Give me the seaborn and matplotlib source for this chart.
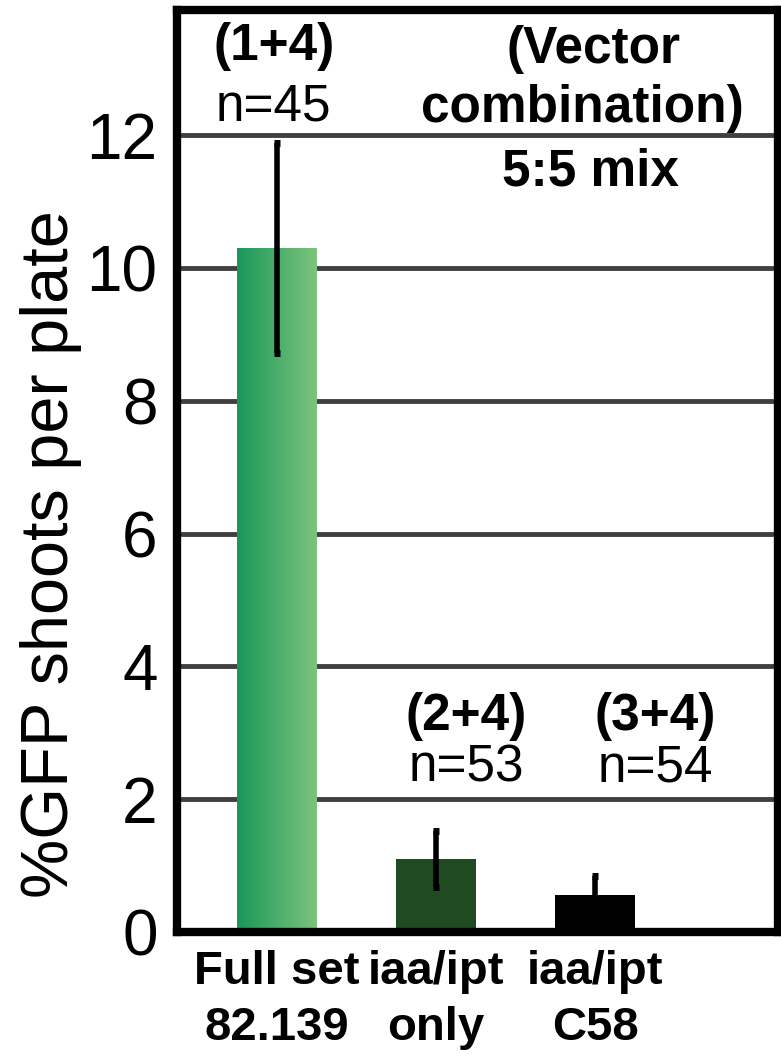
import numpy as np
import pandas as pd
import matplotlib
matplotlib.use("Agg")
import matplotlib.pyplot as plt
import seaborn as sns
from matplotlib.colors import LinearSegmentedColormap

# ---- data ----
categories = ["Full set\n82.139", "iaa/ipt\nonly", "iaa/ipt\nC58"]
means = [10.3, 1.1, 0.55]
errors = [1.58, 0.42, 0.29]
bar_colors = ["#1a965a", "#1f4a22", "#000000"]
gradient_colors = ["#1a965a", "#7cc47c"]
group_labels = ["(1+4)", "(2+4)", "(3+4)"]
n_labels = ["n=45", "n=53", "n=54"]
yticks = [0, 2, 4, 6, 8, 10, 12]
ylabel = "%GFP shoots per plate"
side_note = ["(Vector", "combination)", "5:5 mix"]

sns.set_style("white")
plt.rcParams["font.family"] = ["Liberation Sans", "DejaVu Sans"]
plt.rcParams["text.color"] = "black"
plt.rcParams["axes.labelcolor"] = "black"
plt.rcParams["xtick.color"] = "black"
plt.rcParams["ytick.color"] = "black"

W, H = 781, 1058
fig = plt.figure(figsize=(W / 100, H / 100), dpi=100)
ax = fig.add_axes([177 / W, (H - 932) / H, (778 - 177) / W, (932 - 10) / H])

df = pd.DataFrame({"category": categories, "value": means})
sns.barplot(data=df, x="category", y="value", hue="category",
            palette=bar_colors, width=0.5, legend=False, ax=ax,
            saturation=1, zorder=2, linewidth=0)

ax.errorbar(x=np.arange(len(means)), y=means, yerr=errors, fmt="none",
            ecolor="black", elinewidth=4, capsize=2.5, capthick=5, zorder=5)

# gradient on first bar
bar = ax.patches[0]
x0, y0 = bar.get_x(), bar.get_y()
x1, y1 = x0 + bar.get_width(), y0 + bar.get_height()
cmap = LinearSegmentedColormap.from_list("g", gradient_colors)
im = ax.imshow(np.linspace(0, 1, 256).reshape(1, -1), cmap=cmap,
               extent=[x0, x1, y0, y1], aspect="auto", zorder=3,
               interpolation="bilinear")
im.set_clip_path(bar)

ax.set_xlim(-0.629, 3.15)
ax.set_ylim(0, 13.89)
ax.set_yticks(yticks)
ax.set_yticklabels([str(t) for t in yticks])
ax.yaxis.grid(True, color="#404040", linewidth=3.5, zorder=0)
ax.xaxis.grid(False)
ax.set_axisbelow(True)

ax.tick_params(axis="y", length=0, labelsize=46, pad=14, colors="black")
ax.tick_params(axis="x", length=0, labelsize=34, pad=13, colors="black")
for lab in ax.get_xticklabels():
    lab.set_fontweight("bold")
    lab.set_linespacing(1.35)
ax.set_xlabel("")
ax.set_ylabel(ylabel, fontsize=48, color="black")
ax.yaxis.set_label_coords(-0.158, 0.41)

for s in ax.spines.values():
    s.set_visible(True)
    s.set_color("black")
    s.set_linewidth(6)
    s.set_zorder(6)

# annotations
grp_x = [-0.02, 1.19, 2.38]
grp_y = [13.13, 3.04, 3.04]
n_y = [12.23, 2.27, 2.27]
for gx, gy, ny, g, n in zip(grp_x, grp_y, n_y, group_labels, n_labels):
    ax.text(gx, gy, g, ha="center", va="baseline", fontsize=37,
            fontweight="bold", zorder=7)
    ax.text(gx, ny, n, ha="center", va="baseline", fontsize=37, zorder=7)

ax.text(1.99, 13.09, side_note[0], ha="center", va="baseline", fontsize=37,
        fontweight="bold", zorder=7)
ax.text(1.92, 12.2, side_note[1], ha="center", va="baseline", fontsize=37,
        fontweight="bold", zorder=7)
ax.text(1.97, 11.25, side_note[2], ha="center", va="baseline", fontsize=37,
        fontweight="bold", zorder=7)

fig.savefig("out.png", dpi=100)
